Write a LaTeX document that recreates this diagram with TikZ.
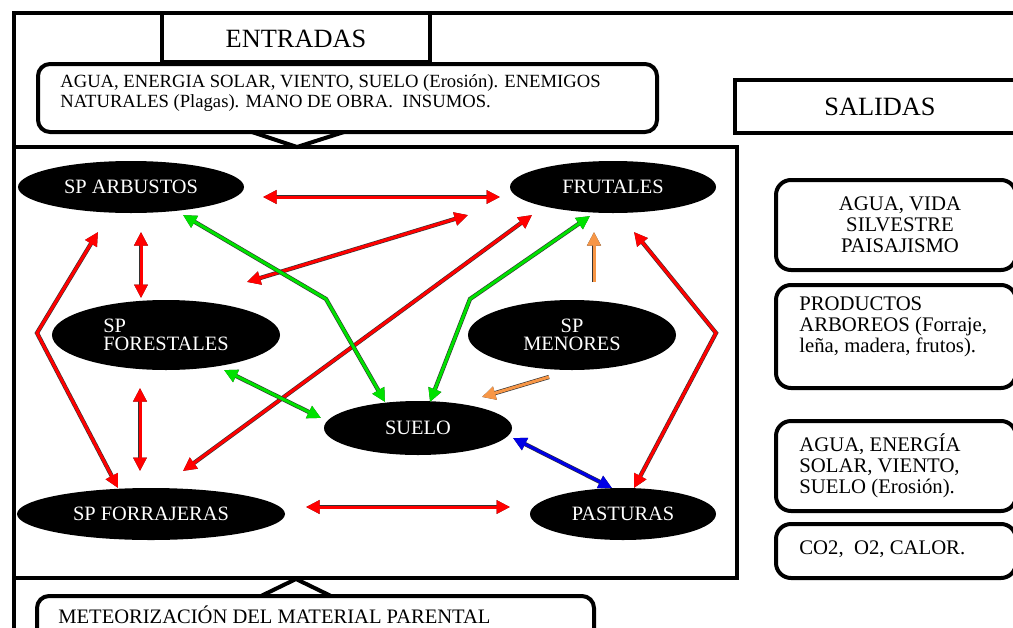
\documentclass[tikz,border=0pt]{standalone}
\usepackage{fontspec}
\setmainfont{Liberation Serif}
\usetikzlibrary{shapes.geometric,arrows.meta}

\definecolor{lnred}{RGB}{255,0,0}
\definecolor{lngreen}{RGB}{0,225,0}
\definecolor{lnblue}{RGB}{0,0,230}
\definecolor{lnorange}{RGB}{247,150,70}

\newcommand{\fsz}[2]{\fontsize{#1pt}{#2pt}\selectfont}

\tikzset{
  frame/.style={line width=0.8mm, line join=miter},
  softbox/.style={line width=0.8mm, rounded corners=3mm},
  blob/.style={ellipse, fill=black, text=white, inner sep=0pt,
               font=\fsz{11.6}{10.5}},
  plain/.style={inner sep=0pt, font=\fsz{11.8}{12}},
  head/.style={inner sep=0pt, font=\fsz{15}{15}},
  link/.style={line width=0.6mm, line join=miter,
               >={Triangle[length=2.7mm,width=2.6mm]},
               preaction={draw=black!80, line width=0.85mm}},
  rr/.style={link, draw=lnred, <->},
  gg/.style={link, draw=lngreen, <->},
  bb/.style={link, draw=lnblue, <->},
  oo/.style={link, draw=lnorange, ->},
}

\begin{document}
\begin{tikzpicture}[x=0.2mm, y=-0.2mm]
\useasboundingbox (0,0) rectangle (1013,627);
\clip (0,0) rectangle (1013,627);

% outer frame
\draw[frame] (14,640) -- (14,13) -- (1030,13);

% inputs
\draw[frame, fill=white] (162,13) rectangle (430,62);
\node[head] (entradas) at (296,39) {ENTRADAS};
\draw[frame, rounded corners=2.4mm] (38,64) rectangle (657,132);
\draw[frame] (252,132) -- (297,147) -- (344,132);
\node[inner sep=0pt, anchor=west, align=left, font=\fsz{10.6}{11.4}] (inputs)
  at (60,93) {AGUA, ENERGIA SOLAR, VIENTO, SUELO (Erosión). ENEMIGOS\\
              NATURALES (Plagas). MANO DE OBRA.\ \ INSUMOS.};

% system boundary
\draw[frame] (14,147) rectangle (737,578);

% bottom input
\draw[frame] (261,596) -- (296,579) -- (331,596);
\draw[frame, rounded corners=2.4mm] (37,596) rectangle (594,660);
\node[inner sep=0pt, anchor=west, font=\fsz{11.7}{12}] (meteo)
  at (58,615) {METEORIZACIÓN DEL MATERIAL PARENTAL};

% outputs
\draw[frame] (735,80) rectangle (1030,133);
\node[head] (salidas) at (880,107) {SALIDAS};

\draw[softbox] (776,180) rectangle (1016,270);
\node[plain, align=center] (out1) at (900,225) {AGUA, VIDA\\SILVESTRE\\PAISAJISMO};
\draw[softbox] (776,285) rectangle (1016,388);
\node[plain, align=left, anchor=west] (out2) at (799,327)
  {PRODUCTOS\\ARBOREOS (Forraje,\\leña, madera, frutos).};
\draw[softbox] (776,421) rectangle (1016,511);
\node[plain, align=left, anchor=west] (out3) at (799,466)
  {AGUA, ENERGÍA\\SOLAR, VIENTO,\\SUELO (Erosión).};
\draw[softbox] (776,524) rectangle (1016,578);
\node[plain, anchor=west] (out4) at (799,549) {CO2,\ \ O2, CALOR.};

% components
\node[blob, minimum width=45.2mm, minimum height=10.4mm] (arb) at (131,187) {SP ARBUSTOS};
\node[blob, minimum width=41.2mm, minimum height=10.4mm] (fru) at (613,187) {FRUTALES};
\node[blob, minimum width=45.6mm, minimum height=14mm, align=left] (for) at (166,335) {SP\\FORESTALES};
\node[blob, minimum width=41.6mm, minimum height=14mm, align=center] (men) at (572,335) {SP\\MENORES};
\node[blob, minimum width=37.6mm, minimum height=10.8mm] (sue) at (418,428) {SUELO};
\node[blob, minimum width=53.6mm, minimum height=10.4mm] (frr) at (151,514) {SP FORRAJERAS};
\node[blob, minimum width=37.2mm, minimum height=10.4mm] (pas) at (623,514) {PASTURAS};

% bends
\coordinate (lbend) at (37,333);
\coordinate (rbend) at (716,333);
\coordinate (gbendA) at (326,299);
\coordinate (gbendB) at (470,299);

% interactions
\draw[rr] ([shift={(132,10)}]arb.center) -- ([shift={(-113,10)}]fru.center);
\draw[rr] ([shift={(81,-53)}]for.center) -- ([shift={(-145,28)}]fru.center);
\draw[rr] ([shift={(10,45)}]arb.center) -- ([shift={(-25,-37)}]for.center);
\draw[rr] ([shift={(-33,45)}]arb.center) -- (lbend) -- ([shift={(-33,-26)}]frr.center);
\draw[rr] ([shift={(-26,53)}]for.center) -- ([shift={(-11,-43)}]frr.center);
\draw[rr] ([shift={(-81,28)}]fru.center) -- ([shift={(32,-43)}]frr.center);
\draw[rr] ([shift={(155,-7)}]frr.center) -- ([shift={(-113,-7)}]pas.center);
\draw[rr] ([shift={(21,45)}]fru.center) -- (rbend) -- ([shift={(11,-26)}]pas.center);
\draw[gg] ([shift={(52,28)}]arb.center) -- (gbendA) -- ([shift={(-33,-26)}]sue.center);
\draw[gg] ([shift={(-23,29)}]fru.center) -- (gbendB) -- ([shift={(12,-26)}]sue.center);
\draw[gg] ([shift={(58,35)}]for.center) -- ([shift={(-97,-10)}]sue.center);
\draw[oo] ([shift={(22,-53)}]men.center) -- ([shift={(-19,45)}]fru.center);
\draw[oo] ([shift={(-23,42)}]men.center) -- ([shift={(64,-31)}]sue.center);
\draw[bb] ([shift={(95,10)}]sue.center) -- ([shift={(-11,-26)}]pas.center);
\end{tikzpicture}
\end{document}
